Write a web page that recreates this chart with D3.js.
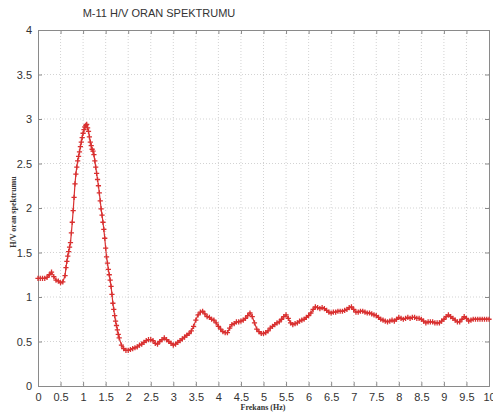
<!DOCTYPE html>
<html>
<head>
<meta charset="utf-8">
<script src="https://cdn.jsdelivr.net/npm/d3@7"></script>
<style>
html,body{margin:0;padding:0;background:#fff;}
svg{display:block;}
</style>
</head>
<body>
<svg id="chart" width="493" height="419"></svg>
<script>
const title = "M-11 H/V ORAN SPEKTRUMU";
const xLabel = "Frekans (Hz)";
const yLabel = "H/V oran spektrumu";
const xTicks = [0,0.5,1,1.5,2,2.5,3,3.5,4,4.5,5,5.5,6,6.5,7,7.5,8,8.5,9,9.5,10];
const yTicks = [0,0.5,1,1.5,2,2.5,3,3.5,4];

const freqLow = [0.00,0.05,0.10,0.15,0.20,0.25,0.30,0.35,0.40,0.45,0.50,0.55,0.60];
const hvLow   = [1.21,1.21,1.21,1.21,1.22,1.25,1.28,1.23,1.19,1.18,1.16,1.17,1.24];

const freqPeak = [0.62,0.64,0.66,0.68,0.70,0.72,0.74,0.76,0.78,0.80,0.82,0.84,0.86,0.88,0.90,0.92,0.94,0.96,0.98,1.00,
  1.02,1.04,1.06,1.08,1.10,1.12,1.14,1.16,1.18,1.20,1.22,1.24,1.26,1.28,1.30,1.32,1.34,1.36,1.38,1.40,
  1.42,1.44,1.46,1.48,1.50,1.52,1.54,1.56,1.58,1.60,1.62,1.64,1.66,1.68,1.70,1.72,1.74,1.76,1.78,1.80];
const hvPeak = [1.33,1.40,1.46,1.51,1.56,1.61,1.72,1.84,1.97,2.12,2.27,2.38,2.46,2.53,2.58,2.63,2.69,2.74,2.79,2.84,
  2.88,2.91,2.93,2.94,2.90,2.86,2.80,2.74,2.70,2.66,2.64,2.60,2.53,2.46,2.39,2.32,2.25,2.17,2.08,1.99,
  1.92,1.84,1.76,1.66,1.55,1.45,1.38,1.31,1.25,1.19,1.12,1.03,0.93,0.86,0.79,0.73,0.68,0.63,0.58,0.54];

const freqHigh = [1.85,1.90,1.95,2.00,2.05,2.10,2.15,2.20,2.25,2.30,2.35,2.40,2.45,2.50,2.55,2.60,2.65,2.70,2.75,2.80,
  2.85,2.90,2.95,3.00,3.05,3.10,3.15,3.20,3.25,3.30,3.35,3.40,3.45,3.50,3.55,3.60,3.65,3.70,3.75,3.80,
  3.85,3.90,3.95,4.00,4.05,4.10,4.15,4.20,4.25,4.30,4.35,4.40,4.45,4.50,4.55,4.60,4.65,4.70,4.75,4.80,
  4.85,4.90,4.95,5.00,5.05,5.10,5.15,5.20,5.25,5.30,5.35,5.40,5.45,5.50,5.55,5.60,5.65,5.70,5.75,5.80,
  5.85,5.90,5.95,6.00,6.05,6.10,6.15,6.20,6.25,6.30,6.35,6.40,6.45,6.50,6.55,6.60,6.65,6.70,6.75,6.80,
  6.85,6.90,6.95,7.00,7.05,7.10,7.15,7.20,7.25,7.30,7.35,7.40,7.45,7.50,7.55,7.60,7.65,7.70,7.75,7.80,
  7.85,7.90,7.95,8.00,8.05,8.10,8.15,8.20,8.25,8.30,8.35,8.40,8.45,8.50,8.55,8.60,8.65,8.70,8.75,8.80,
  8.85,8.90,8.95,9.00,9.05,9.10,9.15,9.20,9.25,9.30,9.35,9.40,9.45,9.50,9.55,9.60,9.65,9.70,9.75,9.80,
  9.85,9.90,9.95,10.00];
const hvHigh = [0.46,0.42,0.40,0.40,0.41,0.42,0.43,0.44,0.46,0.47,0.49,0.51,0.52,0.52,0.51,0.48,0.47,0.50,0.52,0.54,
  0.52,0.50,0.48,0.46,0.47,0.49,0.51,0.53,0.55,0.57,0.59,0.62,0.67,0.74,0.80,0.83,0.84,0.81,0.78,0.77,
  0.75,0.74,0.71,0.67,0.64,0.61,0.60,0.60,0.65,0.69,0.70,0.72,0.72,0.73,0.74,0.76,0.79,0.82,0.78,0.71,
  0.64,0.61,0.59,0.59,0.60,0.62,0.65,0.67,0.69,0.71,0.72,0.75,0.78,0.80,0.76,0.71,0.69,0.70,0.71,0.73,
  0.74,0.75,0.77,0.79,0.82,0.86,0.89,0.88,0.87,0.88,0.87,0.85,0.83,0.82,0.83,0.83,0.84,0.84,0.84,0.85,
  0.86,0.88,0.89,0.86,0.83,0.83,0.84,0.84,0.83,0.82,0.82,0.81,0.80,0.79,0.77,0.75,0.74,0.73,0.72,0.73,
  0.74,0.73,0.75,0.77,0.76,0.75,0.76,0.77,0.76,0.77,0.77,0.76,0.76,0.75,0.73,0.71,0.72,0.72,0.72,0.71,
  0.71,0.71,0.73,0.75,0.78,0.80,0.78,0.76,0.74,0.72,0.72,0.75,0.78,0.76,0.73,0.74,0.75,0.75,0.75,0.75,
  0.75,0.75,0.75,0.75];

(function () {
const freq = freqLow.concat(freqPeak, freqHigh);
const hv = hvLow.concat(hvPeak, hvHigh);
const data = freq.map((f, i) => ({f: f, v: hv[i]}));

const svg = d3.select("#chart");
const mLeft = 38, mRight = 489, mTop = 30, mBottom = 386;
const x = d3.scaleLinear().domain([0, 10]).range([mLeft, mRight]);
const y = d3.scaleLinear().domain([0, 4]).range([mBottom, mTop]);

const axisColor = "#8a8a8a";
const textColor = "#333";
const red = "#d93030";

// grid
const grid = svg.append("g");
grid.selectAll("line.vx").data(xTicks.slice(1, -1)).enter().append("line")
  .attr("x1", d => x(d)).attr("x2", d => x(d)).attr("y1", mTop).attr("y2", mBottom)
  .attr("stroke", "#c8c8c8").attr("stroke-width", 0.8).attr("stroke-dasharray", "1,2");
grid.selectAll("line.hy").data(yTicks.slice(1, -1)).enter().append("line")
  .attr("y1", d => y(d)).attr("y2", d => y(d)).attr("x1", mLeft).attr("x2", mRight)
  .attr("stroke", "#c8c8c8").attr("stroke-width", 0.8).attr("stroke-dasharray", "1,2");

// axes
const xAxisB = d3.axisBottom(x).tickValues(xTicks).tickSize(-4).tickPadding(7).tickFormat(d3.format("~g"));
const xAxisT = d3.axisTop(x).tickValues(xTicks).tickSize(-4).tickFormat("");
const yAxisL = d3.axisLeft(y).tickValues(yTicks).tickSize(-4).tickPadding(6).tickFormat(d3.format("~g"));
const yAxisR = d3.axisRight(y).tickValues(yTicks).tickSize(-4).tickFormat("");

function styleAxis(g) {
  g.selectAll("path").attr("stroke", axisColor).attr("stroke-width", 1);
  g.selectAll("line").attr("stroke", axisColor).attr("stroke-width", 1);
  g.selectAll("text").attr("fill", textColor).style("font-family", "Arial, 'Liberation Sans', sans-serif").style("font-size", "11px");
}
svg.append("g").attr("transform", `translate(0,${mBottom})`).call(xAxisB).call(styleAxis);
svg.append("g").attr("transform", `translate(0,${mTop})`).call(xAxisT).call(styleAxis);
svg.append("g").attr("transform", `translate(${mLeft},0)`).call(yAxisL).call(styleAxis);
svg.append("g").attr("transform", `translate(${mRight},0)`).call(yAxisR).call(styleAxis);

// line
const line = d3.line().x(d => x(d.f)).y(d => y(d.v));
svg.append("path").datum(data).attr("d", line)
  .attr("fill", "none").attr("stroke", red).attr("stroke-width", 1.2);

// plus markers
const s = 2.6;
svg.append("g").selectAll("path.m").data(data).enter().append("path")
  .attr("d", d => `M${x(d.f)-s},${y(d.v)}H${x(d.f)+s}M${x(d.f)},${y(d.v)-s}V${y(d.v)+s}`)
  .attr("stroke", red).attr("stroke-width", 1.3).attr("fill", "none");

// texts
svg.append("text").attr("x", 159).attr("y", 17).attr("text-anchor", "middle")
  .attr("fill", textColor).style("font-family", "Arial, 'Liberation Sans', sans-serif").style("font-size", "11px")
  .text(title);
svg.append("text").attr("x", 263).attr("y", 410).attr("text-anchor", "middle")
  .attr("fill", textColor).style("font-family", "'Liberation Serif', 'DejaVu Serif', serif").style("font-size", "8px").style("font-weight", "bold")
  .text(xLabel);
svg.append("text").attr("transform", "translate(16,212) rotate(-90)").attr("text-anchor", "middle")
  .attr("fill", textColor).style("font-family", "'Liberation Serif', 'DejaVu Serif', serif").style("font-size", "8px").style("font-weight", "bold")
  .text(yLabel);
})();
</script>
</body>
</html>
